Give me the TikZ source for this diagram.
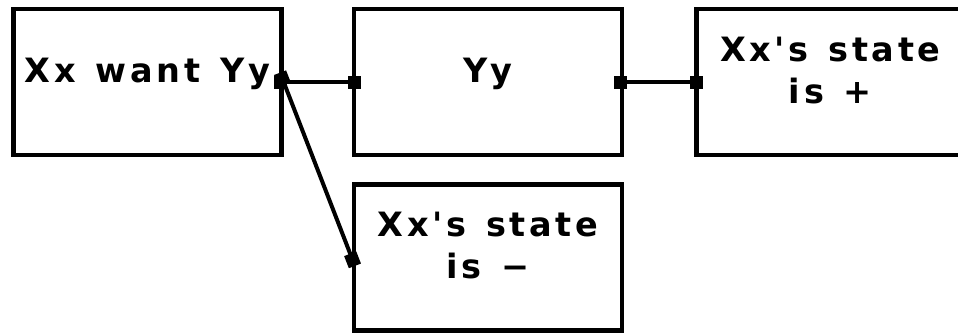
\documentclass[tikz,border=0pt]{standalone}
\usepackage{fontspec}
\usepackage{tikz}
\usetikzlibrary{positioning,arrows.meta}
\newfontfamily\boxfont[LetterSpace=11,WordSpace=1.3]{DejaVu Sans}

\tikzset{
  statebox/.style={draw, line width=4.5pt, minimum width=268pt, minimum height=146pt,
    inner sep=0pt, align=center, font=\boxfont\bfseries\fontsize{33.5}{42}\selectfont},
  oneline/.style={text height=20pt, text depth=20pt},
  twoline/.style={text height=42pt, text depth=0pt},
  link/.style={line width=4pt, shorten <=-10pt, shorten >=-9pt,
    {Square[length=13pt,width=13pt]}-{Square[length=13pt,width=13pt]}}
}

\begin{document}
\begin{tikzpicture}[x=1pt, y=-1pt]
  \useasboundingbox (0,0) rectangle (958,332);
  % Define nodes
  \node[statebox, oneline] (want) at (147.4,82) {Xx want Yy};
  \node[statebox, oneline, right=68pt of want] (yy) {Yy};
  \node[statebox, twoline, right=70pt of yy] (plus) {Xx's state\\is +};
  \node[statebox, twoline, below=25pt of yy] (minus) {Xx's state\\is −};

  % Connect the nodes
  \draw[link] (want.east) -- (yy.west);
  \draw[link] (yy.east) -- (plus.west);
  \draw[link] (want.east) -- (minus.west);
\end{tikzpicture}
\end{document}
